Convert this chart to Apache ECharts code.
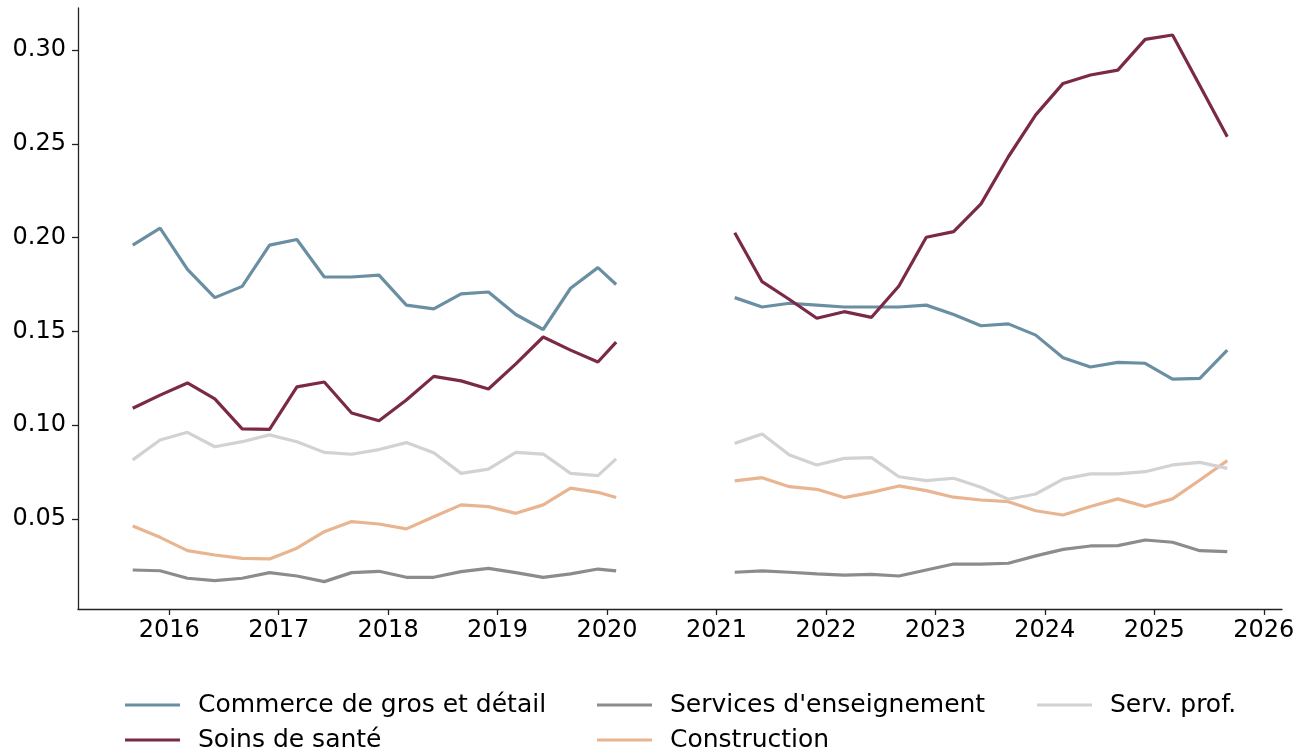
<!DOCTYPE html>
<html>
<head>
<meta charset="utf-8">
<script src="https://cdn.jsdelivr.net/npm/echarts@6/dist/echarts.min.js"></script>
<style>
  html, body { margin: 0; padding: 0; background: #fff; }
  #chart { width: 1307px; height: 754px; }
</style>
</head>
<body>
<div id="chart"></div>
<script>
// trimestres, deux périodes séparées par un trou
const datesA = ['2015-09', '2015-12', '2016-03', '2016-06', '2016-09', '2016-12',
  '2017-03', '2017-06', '2017-09', '2017-12', '2018-03', '2018-06',
  '2018-09', '2018-12', '2019-03', '2019-06', '2019-09', '2019-12', '2020-02']
const datesB = ['2021-03', '2021-06', '2021-09', '2021-12', '2022-03', '2022-06',
  '2022-09', '2022-12', '2023-03', '2023-06', '2023-09', '2023-12',
  '2024-03', '2024-06', '2024-09', '2024-12', '2025-03', '2025-06', '2025-09']
const gapDate = '2020-08'

const commerceA = [0.196, 0.205, 0.183, 0.168, 0.174, 0.196, 0.199, 0.179, 0.179, 0.180,
  0.164, 0.162, 0.170, 0.171, 0.159, 0.151, 0.173, 0.184, 0.175]
const commerceB = [0.168, 0.163, 0.165, 0.164, 0.163, 0.163, 0.163, 0.164, 0.159, 0.153,
  0.154, 0.148, 0.136, 0.131, 0.1335, 0.133, 0.1245, 0.125, 0.140]

const soinsA = [0.109, 0.116, 0.1225, 0.114, 0.098, 0.0978, 0.1204, 0.123, 0.1065, 0.1024,
  0.1134, 0.126, 0.1236, 0.1193, 0.1327, 0.147, 0.140, 0.1337, 0.1443]
const soinsB = [0.2026, 0.1765, 0.167, 0.157, 0.1605, 0.1575, 0.1742, 0.2002, 0.2032, 0.218,
  0.2431, 0.2654, 0.2822, 0.2867, 0.2893, 0.3057, 0.308, 0.281, 0.2538]

const enseignA = [0.0228, 0.0224, 0.0184, 0.0171, 0.0184, 0.0214, 0.0196, 0.0166, 0.0214, 0.0221,
  0.0189, 0.0189, 0.0219, 0.0237, 0.0214, 0.0189, 0.0207, 0.0233, 0.0223]
const enseignB = [0.0216, 0.0223, 0.0216, 0.0207, 0.0201, 0.0205, 0.0196, 0.0228, 0.0260, 0.0259,
  0.0264, 0.0303, 0.0338, 0.0356, 0.0358, 0.0388, 0.0376, 0.0331, 0.0326]

const constructionA = [0.0463, 0.0402, 0.0331, 0.0308, 0.0290, 0.0287, 0.0344, 0.0432, 0.0486, 0.0473,
  0.0447, 0.0512, 0.0575, 0.0566, 0.0530, 0.0575, 0.0664, 0.0642, 0.0614]
const constructionB = [0.0703, 0.0720, 0.0672, 0.0658, 0.0614, 0.0642, 0.0676, 0.0651, 0.0616, 0.0601,
  0.0592, 0.0544, 0.0521, 0.0566, 0.0607, 0.0566, 0.0607, 0.0708, 0.0811]

const profA = [0.0815, 0.0921, 0.0962, 0.0885, 0.0912, 0.0948, 0.0912, 0.0855, 0.0845, 0.087,
  0.0907, 0.0853, 0.0743, 0.0766, 0.0855, 0.0846, 0.0743, 0.0731, 0.0820]
const profB = [0.0903, 0.0953, 0.0841, 0.0788, 0.0823, 0.0827, 0.0725, 0.0704, 0.0717, 0.0669,
  0.0605, 0.0633, 0.0712, 0.0740, 0.0740, 0.0752, 0.0788, 0.0802, 0.0770]

const yTicks = [0.05, 0.10, 0.15, 0.20, 0.25, 0.30]
const xYears = [2016, 2017, 2018, 2019, 2020, 2021, 2022, 2023, 2024, 2025, 2026]

const names = ['Commerce de gros et détail', 'Soins de santé', "Services d'enseignement", 'Construction', 'Serv. prof.']
const colors = ['#6a8fa3', '#7a2a46', '#8c8c8c', '#e8b590', '#d2d2d2']

// 'AAAA-MM' -> année décimale
function toYear(s) {
  const p = s.split('-')
  return +p[0] + (+p[1] - 1) / 12
}

// une série = période A + point vide + période B
function buildData(a, b) {
  const out = datesA.map((d, i) => [toYear(d), a[i]])
  out.push([toYear(gapDate), '-'])
  datesB.forEach((d, i) => out.push([toYear(d), b[i]]))
  return out
}

const t0 = toYear(datesA[0])
const t1 = toYear(datesB[datesB.length - 1])
const pad = (t1 - t0) * 0.05

const font = 'DejaVu Sans'

const chart = echarts.init(document.getElementById('chart'))
chart.setOption({
  animation: false,
  color: colors,
  grid: { left: 78, right: 25, top: 8, bottom: 145 },
  // légende en 3 colonnes : une entrée par composant
  legend: [
    { data: [names[0]], left: 125, top: 690 },
    { data: [names[1]], left: 125, top: 725 },
    { data: [names[2]], left: 597, top: 690 },
    { data: [names[3]], left: 597, top: 725 },
    { data: [names[4]], left: 1037, top: 690 }
  ].map(l => Object.assign(l, {
    padding: 0,
    icon: 'rect',
    itemWidth: 55,
    itemHeight: 3,
    textStyle: { fontFamily: font, fontSize: 25, color: '#000', lineHeight: 30, padding: [0, 0, 0, 13] }
  })),
  xAxis: {
    type: 'value',
    min: t0 - pad,
    max: t1 + pad,
    splitLine: { show: false },
    axisLine: { lineStyle: { color: '#222', width: 1.3 } },
    axisTick: {
      show: true, inside: false, length: 6,
      lineStyle: { color: '#222', width: 1.3 },
      customValues: xYears
    },
    axisLabel: {
      fontFamily: font, fontSize: 24, color: '#000', margin: 10,
      customValues: xYears,
      formatter: v => String(Math.round(v))
    }
  },
  yAxis: {
    type: 'value',
    min: 0.002,
    max: 0.3224,
    splitLine: { show: false },
    axisLine: { show: true, lineStyle: { color: '#222', width: 1.3 } },
    axisTick: {
      show: true, length: 6,
      lineStyle: { color: '#222', width: 1.3 },
      customValues: yTicks
    },
    axisLabel: {
      fontFamily: font, fontSize: 24, color: '#000', margin: 12,
      customValues: yTicks,
      formatter: v => v.toFixed(2)
    }
  },
  series: [
    [commerceA, commerceB],
    [soinsA, soinsB],
    [enseignA, enseignB],
    [constructionA, constructionB],
    [profA, profB]
  ].map((pair, i) => ({
    name: names[i],
    type: 'line',
    symbol: 'none',
    connectNulls: false,
    lineStyle: { width: 3.2, color: colors[i] },
    itemStyle: { color: colors[i] },
    data: buildData(pair[0], pair[1])
  }))
})
</script>
</body>
</html>
